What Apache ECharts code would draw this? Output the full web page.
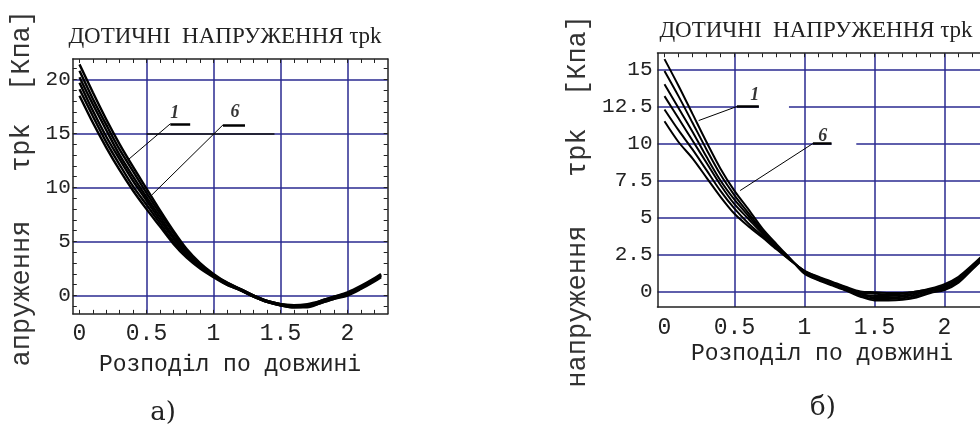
<!DOCTYPE html>
<html>
<head>
<meta charset="utf-8">
<title>Дотичні напруження τpk</title>
<script src="https://cdn.jsdelivr.net/npm/echarts@6/dist/echarts.min.js"></script>
<style>
html, body { margin: 0; padding: 0; background: #fff; }
#main { width: 980px; height: 431px; }
</style>
</head>
<body>
<div id="main"></div>
<script>
// ---- дані, графік а) ----
var xsA = [0, 0.1, 0.2, 0.3, 0.4, 0.5, 0.6, 0.7, 0.8, 0.9, 1.0, 1.1, 1.2, 1.3, 1.4, 1.5, 1.6, 1.7, 1.8, 1.9, 2.0, 2.1, 2.2, 2.25];
var a1 = [21.4, 18.8, 16.3, 14.0, 11.9, 9.9, 7.9, 6.0, 4.3, 3.0, 2.0, 1.2, 0.6, 0.0, -0.5, -0.8, -0.9, -0.8, -0.5, -0.1, 0.3, 0.9, 1.6, 2.0];
var a2 = [20.8, 18.2, 15.8, 13.5, 11.5, 9.5, 7.6, 5.8, 4.1, 2.9, 1.9, 1.2, 0.6, 0.0, -0.5, -0.8, -0.9, -0.9, -0.5, -0.1, 0.2, 0.8, 1.5, 1.9];
var a3 = [20.2, 17.7, 15.3, 13.0, 11.0, 9.1, 7.3, 5.5, 4.0, 2.8, 1.9, 1.1, 0.6, 0.0, -0.5, -0.8, -1.0, -0.9, -0.6, -0.2, 0.2, 0.8, 1.5, 1.9];
var a4 = [19.7, 17.1, 14.7, 12.6, 10.6, 8.8, 7.0, 5.3, 3.8, 2.7, 1.8, 1.1, 0.5, -0.1, -0.6, -0.9, -1.0, -1.0, -0.6, -0.2, 0.1, 0.7, 1.4, 1.8];
var a5 = [19.1, 16.6, 14.2, 12.1, 10.1, 8.4, 6.7, 5.0, 3.7, 2.6, 1.8, 1.0, 0.5, -0.1, -0.6, -0.9, -1.1, -1.0, -0.7, -0.3, 0.1, 0.7, 1.4, 1.8];
var a6 = [18.5, 16.0, 13.7, 11.6, 9.7, 8.0, 6.4, 4.8, 3.5, 2.5, 1.7, 1.0, 0.5, -0.1, -0.6, -0.9, -1.1, -1.1, -0.7, -0.3, 0.0, 0.6, 1.3, 1.7];

// ---- дані, графік б) ----
var xsB = [0, 0.1, 0.2, 0.3, 0.4, 0.5, 0.6, 0.7, 0.8, 0.9, 1.0, 1.1, 1.2, 1.3, 1.4, 1.5, 1.6, 1.7, 1.8, 1.9, 2.0, 2.1, 2.2, 2.3];
var b1 = [15.7, 13.9, 12.0, 10.1, 8.3, 6.8, 5.55, 4.25, 3.2, 2.2, 1.2, 0.75, 0.4, 0.05, -0.35, -0.6, -0.6, -0.55, -0.4, -0.1, 0.1, 0.6, 1.5, 2.4];
var b2 = [14.9, 13.2, 11.4, 9.6, 7.9, 6.5, 5.3, 4.1, 3.1, 2.2, 1.25, 0.8, 0.45, 0.1, -0.3, -0.5, -0.5, -0.45, -0.3, 0.0, 0.2, 0.7, 1.55, 2.45];
var b3 = [14.0, 12.4, 10.8, 9.1, 7.5, 6.2, 5.1, 4.0, 3.05, 2.15, 1.3, 0.85, 0.5, 0.15, -0.2, -0.4, -0.4, -0.35, -0.2, 0.05, 0.25, 0.75, 1.6, 2.5];
var b4 = [13.2, 11.7, 10.2, 8.7, 7.2, 5.9, 4.9, 3.9, 3.0, 2.15, 1.35, 0.9, 0.55, 0.2, -0.15, -0.3, -0.3, -0.25, -0.1, 0.1, 0.3, 0.8, 1.65, 2.55];
var b5 = [12.3, 10.9, 9.6, 8.2, 6.8, 5.6, 4.6, 3.75, 2.9, 2.1, 1.4, 0.95, 0.6, 0.25, -0.1, -0.15, -0.2, -0.15, 0.0, 0.15, 0.4, 0.9, 1.7, 2.6];
var b6 = [11.5, 10.1, 9.0, 7.7, 6.4, 5.25, 4.4, 3.65, 2.85, 2.1, 1.4, 1.0, 0.65, 0.3, 0.0, -0.05, -0.1, -0.1, 0.0, 0.2, 0.5, 1.0, 1.8, 2.7];

// ---- осі ----
var xLabels = [0, 0.5, 1, 1.5, 2];
var xGrid = [0.5, 1, 1.5, 2];
var xMinor = [0, 0.1, 0.2, 0.3, 0.4, 0.5, 0.6, 0.7, 0.8, 0.9, 1, 1.1, 1.2, 1.3, 1.4, 1.5, 1.6, 1.7, 1.8, 1.9, 2, 2.1, 2.2];
var yLabelsA = [0, 5, 10, 15, 20];
var yMinorA = [-1, 0, 1, 2, 3, 4, 5, 6, 7, 8, 9, 10, 11, 12, 13, 14, 15, 16, 17, 18, 19, 20, 21];
var yLabelsB = [0, 2.5, 5, 7.5, 10, 12.5, 15];

// ---- позначки кривих 1 і 6 ----
var tagsA = [[0.71, 16.9, '1'], [1.16, 16.95, '6']];
var leadersA = [[[0.678, 15.9], [0.366, 12.6]], [[1.071, 15.8], [0.539, 9.3]]];
var underA = [[[0.678, 15.9], [0.826, 15.9]], [[1.071, 15.8], [1.235, 15.8]]];
var darkA = [[[0.5, 15], [1.455, 15]]];

var tagsB = [[0.645, 13.24, '1'], [1.131, 10.47, '6']];
var leadersB = [[[0.517, 12.5], [0.244, 11.55]], [[1.06, 10], [0.54, 6.82]]];
var underB = [[[0.517, 12.5], [0.674, 12.5]], [[1.06, 10], [1.193, 10]]];
var gapsB = [[[0.674, 12.5], [0.889, 12.5]], [[1.193, 10], [1.37, 10]]];

var title = 'ДОТИЧНІ  НАПРУЖЕННЯ τpk';
var xName = 'Розподіл по довжині';

var frame = '#222';
var gridBlue = '#2a2a90';
var mono = '"Liberation Mono", monospace';

function pairs(xs, ys) {
    return ys.map(function (v, i) { return [xs[i], v]; });
}

function segs(list, color, width) {
    return list.map(function (s) {
        return [{ coord: s[0], lineStyle: { color: color, width: width, type: 'solid' } }, { coord: s[1] }];
    });
}

function mainX(grid) {
    return {
        type: 'value', gridIndex: grid, min: -0.05, max: 2.3, position: 'bottom',
        axisLine: { show: true, onZero: false, lineStyle: { color: frame, width: 1.5 } },
        axisTick: { show: false, customValues: xGrid },
        axisLabel: { customValues: xLabels, margin: 9, fontFamily: mono, fontSize: 23, color: '#222' },
        splitLine: { show: true, lineStyle: { color: gridBlue, width: 1.5 } }
    };
}

function tickX(grid, pos, line) {
    return {
        type: 'value', gridIndex: grid, min: -0.05, max: 2.3, position: pos,
        axisLine: { show: line, onZero: false, lineStyle: { color: frame, width: 1.5 } },
        axisTick: { show: true, inside: true, length: 4, customValues: xMinor, lineStyle: { color: frame } },
        axisLabel: { show: false },
        splitLine: { show: false }
    };
}

function mainY(grid, min, max, labels, margin) {
    return {
        type: 'value', gridIndex: grid, min: min, max: max, position: 'left',
        axisLine: { show: true, onZero: false, lineStyle: { color: frame, width: 1.5 } },
        axisTick: { show: false, customValues: labels },
        axisLabel: { customValues: labels, margin: margin, fontFamily: mono, fontSize: 21, color: '#222' },
        splitLine: { show: true, lineStyle: { color: gridBlue, width: 1.5 } }
    };
}

function tickY(grid, min, max, pos, line, ticks) {
    return {
        type: 'value', gridIndex: grid, min: min, max: max, position: pos,
        axisLine: { show: line, onZero: false, lineStyle: { color: frame, width: 1.5 } },
        axisTick: { show: ticks.length > 0, inside: true, length: 4, customValues: ticks.length ? ticks : [0], lineStyle: { color: frame } },
        axisLabel: { show: false },
        splitLine: { show: false }
    };
}

function curve(xs, ys, axis, width) {
    return {
        type: 'line', xAxisIndex: axis, yAxisIndex: axis, data: pairs(xs, ys),
        smooth: 0.3, symbol: 'none', showSymbol: false,
        lineStyle: { color: '#000', width: width }, z: 3, silent: true
    };
}

function tagSeries(axis, tags, lines) {
    return {
        type: 'scatter', xAxisIndex: axis, yAxisIndex: axis, data: tags,
        symbolSize: 1, itemStyle: { color: 'rgba(0,0,0,0)' }, silent: true, z: 4,
        label: {
            show: true, position: 'inside',
            formatter: function (p) { return p.data[2]; },
            fontFamily: '"Liberation Serif", serif', fontStyle: 'italic', fontWeight: 'bold',
            fontSize: 18, color: '#000'
        },
        markLine: {
            silent: true, symbol: ['none', 'none'], animation: false,
            label: { show: false }, emphasis: { disabled: true },
            lineStyle: { type: 'solid' },
            data: lines
        }
    };
}

var texts = [
    { x: 225, y: 37, text: title, font: '23px "Liberation Serif", serif' },
    { x: 816, y: 31, text: title, font: '23px "Liberation Serif", serif' },
    { x: 230, y: 365, text: xName, font: '23px ' + mono },
    { x: 822, y: 354, text: xName, font: '23px ' + mono },
    { x: 163, y: 413, text: 'а)', font: '26px "DejaVu Serif", serif' },
    { x: 823, y: 408, text: 'б)', font: '26px "DejaVu Serif", serif' }
];

var graphics = texts.map(function (t) {
    return {
        type: 'text', x: t.x, y: t.y, silent: true,
        style: { text: t.text, font: t.font, fill: '#222', align: 'center', verticalAlign: 'middle', textAlign: 'center', textVerticalAlign: 'middle' }
    };
});
// підписи осі y (повернуті)
graphics.push({
    type: 'text', x: 22, y: 10, rotation: Math.PI / 2, silent: true,
    style: { text: 'апруження   τpk  [Кпа]', font: '27px ' + mono, fill: '#333', align: 'right', verticalAlign: 'middle', textAlign: 'right', textVerticalAlign: 'middle' }
});
graphics.push({
    type: 'text', x: 578, y: 15, rotation: Math.PI / 2, silent: true,
    style: { text: 'напруження   τpk  [Кпа]', font: '27px ' + mono, fill: '#333', align: 'right', verticalAlign: 'middle', textAlign: 'right', textVerticalAlign: 'middle' }
});

var option = {
    backgroundColor: '#fff',
    animation: false,
    grid: [
        { left: 72.8, top: 58.98, width: 314.9, height: 254.88, outerBoundsMode: 'none', containLabel: false },
        { left: 657.5, top: 53.22, width: 329, height: 253.82, outerBoundsMode: 'none', containLabel: false }
    ],
    xAxis: [
        mainX(0), tickX(0, 'top', true), tickX(0, 'bottom', false),
        mainX(1), tickX(1, 'top', true)
    ],
    yAxis: [
        mainY(0, -1.7, 21.9, yLabelsA, 2), tickY(0, -1.7, 21.9, 'right', true, yMinorA), tickY(0, -1.7, 21.9, 'left', false, yMinorA),
        mainY(1, -1.05, 16.1, yLabelsB, 5), tickY(1, -1.05, 16.1, 'right', true, [])
    ],
    graphic: graphics,
    series: [
        curve(xsA, a1, 0, 2.4), curve(xsA, a2, 0, 2.4), curve(xsA, a3, 0, 2.4),
        curve(xsA, a4, 0, 2.4), curve(xsA, a5, 0, 2.4), curve(xsA, a6, 0, 2.4),
        tagSeries(0, tagsA, segs(darkA, '#111', 1.5).concat(segs(leadersA, '#000', 1), segs(underA, '#000', 2.5))),
        curve(xsB, b1, 3, 2), curve(xsB, b2, 3, 2), curve(xsB, b3, 3, 2),
        curve(xsB, b4, 3, 2), curve(xsB, b5, 3, 2), curve(xsB, b6, 3, 2),
        tagSeries(3, tagsB, segs(gapsB, '#fff', 3).concat(segs(leadersB, '#000', 1), segs(underB, '#000', 2.5)))
    ]
};

var chart = echarts.init(document.getElementById('main'), null, { renderer: 'canvas' });
chart.setOption(option);
</script>
</body>
</html>
